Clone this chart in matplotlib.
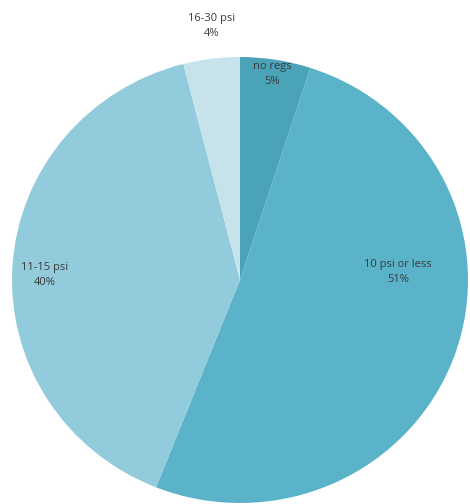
import matplotlib
matplotlib.use("Agg")
import matplotlib.pyplot as plt

labels = ["no regs", "10 psi or less", "11-15 psi", "16-30 psi"]
values = [5, 51, 40, 4]
pct_labels = ["5%", "51%", "40%", "4%"]
colors = ["#4ba3b8", "#5bb3c9", "#92cbdb", "#c6e3ec"]

W, H = 470, 504
fig = plt.figure(figsize=(W / 100, H / 100), dpi=100)
ax = fig.add_axes([0, 0, 1, 1])

cx, cy = 240, 280          # centre in pixels (from top)
rx, ry = 228, 223          # slightly stretched horizontally
ax.pie(values, colors=colors, startangle=90, counterclock=False,
       center=(0, 0), radius=1, frame=True,
       wedgeprops=dict(linewidth=0))
ax.set_aspect("auto")
ax.set_xlim(-cx / rx, (W - cx) / rx)
ax.set_ylim(-(H - cy) / ry, cy / ry)
ax.axis("off")

def px(x, y):
    return (x - cx) / rx, (cy - y) / ry

label_pos = [(272, 74), (398, 272), (45, 275), (212, 26)]
for lab, pct, (x, y) in zip(labels, pct_labels, label_pos):
    tx, ty = px(x, y)
    ax.text(tx, ty, f"{lab}\n{pct}", ha="center", va="center",
            fontsize=8, color="#3a3a3a", family="Open Sans",
            linespacing=1.5)

fig.savefig("out.png", dpi=100)
